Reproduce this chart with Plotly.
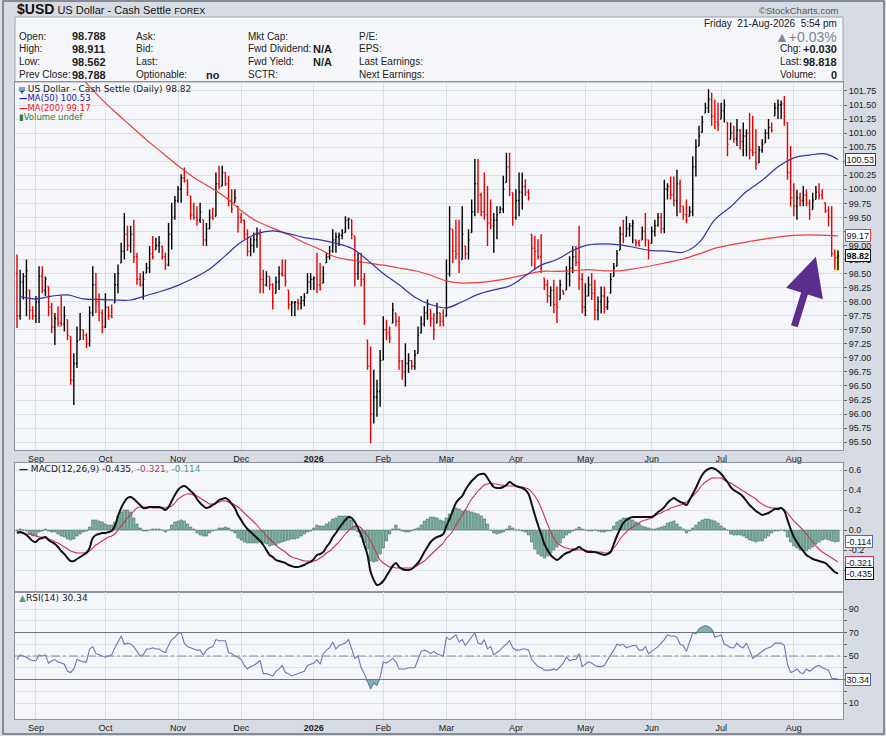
import numpy as np
import pandas as pd
import plotly.graph_objects as go

W, H = 886, 736

# daily bars, 22-Aug-2025 .. 21-Aug-2026
high = [
    98.84, 98.57, 98.51, 98.75, 98.21, 97.92, 98.10, 98.63, 98.63, 98.45,
    98.27, 97.98, 97.80, 97.92, 98.10, 97.92, 97.68, 97.38, 97.08, 97.56,
    97.80, 97.50, 97.44, 97.92, 98.63, 98.51, 98.15, 97.86, 98.15, 97.92,
    97.95, 98.51, 98.66, 99.05, 99.58, 99.35, 99.35, 99.46, 98.87, 98.51,
    98.54, 98.69, 98.99, 99.17, 99.14, 99.17, 98.99, 98.87, 99.40, 99.76,
    99.88, 100.06, 100.27, 100.39, 100.18, 99.88, 99.76, 99.70, 99.76, 99.46,
    99.40, 99.64, 99.67, 100.30, 100.42, 100.42, 100.30, 100.24, 100.00, 100.00,
    99.70, 99.58, 99.46, 99.29, 99.14, 99.23, 99.32, 99.29, 98.57, 98.54,
    98.45, 98.33, 98.45, 98.63, 98.75, 98.75, 98.21, 98.01, 98.01, 98.05,
    98.10, 98.15, 98.51, 98.51, 98.45, 98.87, 98.69, 98.63, 98.87, 98.99,
    99.29, 99.23, 99.23, 99.29, 99.52, 99.50, 99.46, 99.17, 98.87, 98.87,
    98.51, 97.32, 97.20, 96.79, 96.61, 97.14, 97.74, 97.68, 97.56, 97.98,
    97.80, 97.74, 96.96, 97.26, 97.08, 96.96, 97.14, 97.56, 97.74, 97.92,
    98.04, 97.86, 97.80, 97.98, 97.80, 97.86, 98.75, 99.70, 99.29, 99.46,
    99.46, 99.70, 98.99, 99.29, 99.82, 100.54, 100.54, 99.94, 100.30, 100.06,
    99.82, 99.58, 99.70, 99.70, 100.24, 100.65, 100.65, 99.94, 100.00, 100.30,
    100.30, 100.18, 100.00, 99.20, 99.17, 99.11, 99.20, 98.42, 98.39, 98.27,
    98.39, 98.27, 98.39, 98.20, 98.63, 98.81, 98.99, 98.99, 99.35, 98.51,
    98.33, 98.45, 98.51, 98.39, 98.09, 98.27, 98.27, 98.09, 98.51, 98.69,
    98.92, 99.34, 99.46, 99.52, 99.40, 99.46, 99.10, 99.10, 99.34, 99.58,
    99.10, 99.34, 99.46, 99.58, 99.58, 100.17, 100.11, 100.23, 100.23, 100.35,
    100.17, 99.70, 99.82, 99.70, 100.59, 100.89, 101.13, 101.31, 101.54, 101.78,
    101.72, 101.60, 101.54, 101.54, 101.60, 101.19, 101.19, 101.13, 101.25, 101.07,
    101.19, 101.07, 101.36, 101.31, 101.07, 100.77, 100.89, 101.07, 101.25, 101.19,
    101.54, 101.60, 101.58, 101.66, 101.19, 100.77, 100.11, 99.99, 99.94, 100.06,
    100.00, 99.82, 99.94, 100.06, 100.11, 100.00, 99.76, 99.70, 99.70, 98.93,
    98.911,
]
low = [
    97.53, 97.68, 98.04, 97.74, 97.68, 97.68, 97.62, 97.62, 98.15, 98.10,
    97.74, 97.44, 97.23, 97.56, 97.56, 97.47, 97.32, 96.52, 96.16, 96.82,
    97.32, 97.32, 97.17, 97.20, 97.74, 97.80, 97.65, 97.44, 97.53, 97.68,
    97.71, 97.98, 98.15, 98.69, 98.75, 98.90, 98.87, 98.69, 98.30, 98.27,
    98.04, 98.51, 98.51, 98.75, 98.93, 98.87, 98.75, 98.57, 98.63, 98.93,
    99.46, 99.76, 99.76, 100.12, 99.88, 99.46, 99.46, 99.35, 99.40, 98.99,
    98.99, 99.29, 99.46, 99.52, 100.00, 100.06, 100.06, 99.70, 99.58, 99.76,
    99.23, 99.40, 99.11, 98.81, 98.81, 98.87, 98.96, 98.15, 98.15, 98.27,
    98.21, 97.86, 98.15, 98.21, 98.45, 98.27, 97.86, 97.74, 97.74, 97.85,
    97.86, 97.92, 98.15, 98.21, 98.21, 98.15, 98.20, 98.33, 98.69, 98.75,
    98.87, 98.87, 98.99, 99.11, 99.23, 99.29, 99.11, 98.27, 98.39, 98.27,
    97.59, 96.79, 95.48, 95.83, 95.95, 96.13, 96.96, 97.32, 97.26, 97.62,
    97.56, 96.79, 96.61, 96.49, 96.73, 96.79, 96.79, 97.08, 97.44, 97.56,
    97.68, 97.56, 97.32, 97.62, 97.56, 97.56, 97.74, 98.45, 98.69, 98.75,
    98.51, 98.75, 98.75, 98.75, 99.23, 99.52, 99.58, 99.52, 99.46, 98.99,
    99.29, 98.87, 99.11, 99.58, 99.58, 100.12, 99.88, 99.35, 99.46, 99.52,
    99.64, 99.88, 99.80, 98.63, 98.57, 98.75, 98.51, 98.21, 97.98, 97.92,
    97.80, 97.62, 98.04, 98.12, 98.21, 98.27, 98.51, 98.63, 98.21, 97.79,
    97.74, 98.10, 98.03, 97.67, 97.67, 97.79, 97.79, 97.85, 98.15, 98.45,
    98.63, 98.92, 99.04, 99.16, 99.16, 99.04, 98.98, 98.98, 99.10, 98.98,
    98.75, 99.04, 99.16, 99.34, 99.22, 99.22, 99.82, 99.82, 99.70, 99.52,
    99.58, 99.46, 99.40, 99.52, 99.52, 100.23, 100.77, 101.01, 101.36, 101.36,
    101.13, 101.07, 101.04, 101.25, 101.19, 100.59, 100.89, 100.83, 100.77, 100.71,
    100.59, 100.59, 100.53, 100.59, 100.35, 100.47, 100.65, 100.83, 100.89, 101.01,
    101.31, 101.25, 101.25, 101.13, 100.17, 99.70, 99.52, 99.46, 99.70, 99.70,
    99.70, 99.46, 99.64, 99.82, 99.82, 99.82, 99.58, 99.34, 98.80, 98.57,
    98.562,
]
close = [
    97.75, 98.35, 98.45, 98.55, 97.85, 97.75, 98.00, 98.45, 98.20, 98.40,
    97.90, 97.55, 97.70, 97.62, 97.60, 97.75, 97.40, 96.60, 96.90, 97.30,
    97.50, 97.40, 97.25, 97.80, 98.30, 98.00, 97.80, 97.55, 97.90, 97.75,
    97.72, 98.30, 98.50, 98.90, 99.20, 99.00, 99.20, 98.80, 98.40, 98.30,
    98.40, 98.60, 98.85, 98.80, 99.00, 99.05, 98.80, 98.65, 99.20, 99.50,
    99.80, 100.00, 100.20, 100.15, 99.95, 99.55, 99.50, 99.45, 99.60, 99.10,
    99.30, 99.50, 99.47, 100.10, 100.05, 100.30, 100.10, 99.80, 99.65, 99.85,
    99.50, 99.45, 99.20, 98.90, 99.00, 99.10, 99.20, 98.40, 98.30, 98.45,
    98.30, 98.00, 98.35, 98.50, 98.47, 98.35, 97.95, 97.98, 97.99, 97.97,
    98.02, 98.08, 98.35, 98.40, 98.42, 98.30, 98.22, 98.50, 98.80, 98.90,
    99.10, 99.15, 99.18, 99.22, 99.45, 99.47, 99.20, 98.50, 98.70, 98.40,
    97.65, 96.85, 96.00, 96.30, 96.40, 96.95, 97.50, 97.45, 97.35, 97.85,
    97.65, 96.95, 96.75, 96.90, 96.95, 96.85, 97.05, 97.40, 97.60, 97.80,
    97.95, 97.70, 97.50, 97.80, 97.65, 97.60, 98.50, 99.30, 98.90, 98.85,
    98.70, 99.20, 98.85, 99.10, 99.60, 100.10, 99.90, 99.60, 99.55, 99.40,
    99.35, 99.45, 99.55, 99.65, 100.00, 100.40, 100.00, 99.50, 99.80, 99.95,
    100.05, 99.95, 99.85, 98.95, 98.90, 98.80, 98.60, 98.30, 98.10, 98.20,
    97.95, 97.90, 98.30, 98.15, 98.50, 98.60, 98.80, 98.70, 98.40, 97.90,
    98.10, 98.30, 98.15, 97.85, 98.00, 98.10, 97.90, 98.00, 98.40, 98.60,
    98.85, 99.20, 99.10, 99.30, 99.35, 99.40, 99.05, 99.00, 99.25, 99.10,
    98.90, 99.25, 99.35, 99.50, 99.30, 100.00, 100.05, 99.90, 99.80, 100.10,
    99.70, 99.55, 99.45, 99.60, 100.40, 100.75, 100.95, 101.20, 101.45, 101.60,
    101.30, 101.20, 101.15, 101.40, 101.50, 100.80, 101.00, 100.90, 101.05, 100.85,
    100.95, 101.00, 100.70, 100.65, 100.45, 100.70, 100.80, 101.00, 101.10, 101.05,
    101.45, 101.50, 101.52, 101.30, 100.30, 99.85, 99.70, 99.85, 99.80, 99.90,
    99.75, 99.55, 99.80, 99.95, 99.90, 99.83, 99.62, 99.50, 98.85, 98.788,
    98.818,
]
first_open = 98.50

macd = [
    -0.03, -0.02, -0.03, -0.05, -0.08, -0.11, -0.12, -0.09, -0.08, -0.07,
    -0.10, -0.12, -0.14, -0.17, -0.21, -0.24, -0.28, -0.31, -0.31, -0.29,
    -0.27, -0.25, -0.23, -0.18, -0.08, -0.05, -0.04, -0.03, -0.03, -0.02,
    -0.01, 0.04, 0.14, 0.22, 0.28, 0.32, 0.33, 0.31, 0.28, 0.25,
    0.22, 0.22, 0.23, 0.23, 0.23, 0.23, 0.22, 0.20, 0.23, 0.29,
    0.35, 0.40, 0.43, 0.44, 0.42, 0.39, 0.36, 0.31, 0.27, 0.24,
    0.22, 0.23, 0.25, 0.27, 0.30, 0.31, 0.32, 0.30, 0.26, 0.22,
    0.15, 0.10, 0.05, 0.01, -0.02, -0.05, -0.08, -0.11, -0.15, -0.20,
    -0.25, -0.27, -0.30, -0.31, -0.32, -0.33, -0.35, -0.36, -0.37, -0.37,
    -0.36, -0.35, -0.33, -0.32, -0.29, -0.25, -0.24, -0.22, -0.17, -0.13,
    -0.07, -0.03, 0.02, 0.06, 0.10, 0.13, 0.12, 0.08, 0.02, -0.05,
    -0.15, -0.25, -0.42, -0.50, -0.55, -0.54, -0.51, -0.46, -0.41, -0.36,
    -0.33, -0.37, -0.39, -0.40, -0.40, -0.39, -0.36, -0.33, -0.28, -0.22,
    -0.17, -0.12, -0.09, -0.07, -0.06, -0.04, 0.04, 0.11, 0.19, 0.27,
    0.31, 0.34, 0.40, 0.45, 0.49, 0.52, 0.55, 0.56, 0.56, 0.52,
    0.47, 0.43, 0.42, 0.42, 0.43, 0.45, 0.48, 0.46, 0.44, 0.43,
    0.42, 0.40, 0.36, 0.26, 0.15, 0.05, -0.04, -0.14, -0.20, -0.25,
    -0.28, -0.30, -0.28, -0.25, -0.23, -0.22, -0.20, -0.19, -0.17, -0.19,
    -0.21, -0.22, -0.22, -0.22, -0.23, -0.24, -0.25, -0.24, -0.22, -0.14,
    -0.06, 0.01, 0.07, 0.10, 0.12, 0.13, 0.13, 0.13, 0.13, 0.13,
    0.13, 0.13, 0.15, 0.18, 0.20, 0.23, 0.27, 0.30, 0.32, 0.30,
    0.28, 0.27, 0.25, 0.30, 0.36, 0.42, 0.49, 0.55, 0.59, 0.61,
    0.62, 0.61, 0.59, 0.56, 0.52, 0.48, 0.43, 0.40, 0.38, 0.36,
    0.33, 0.29, 0.25, 0.22, 0.19, 0.17, 0.15, 0.16, 0.17, 0.19,
    0.21, 0.21, 0.22, 0.19, 0.10, 0.01, -0.07, -0.12, -0.17, -0.21,
    -0.25, -0.27, -0.29, -0.30, -0.31, -0.32, -0.33, -0.36, -0.39, -0.42,
    -0.435,
]
signal = [
    -0.02, -0.03, -0.03, -0.04, -0.04, -0.05, -0.06, -0.07, -0.07, -0.08,
    -0.09, -0.10, -0.12, -0.13, -0.15, -0.17, -0.19, -0.21, -0.22, -0.23,
    -0.23, -0.23, -0.22, -0.21, -0.18, -0.15, -0.13, -0.11, -0.09, -0.07,
    -0.06, -0.04, 0.00, 0.04, 0.08, 0.12, 0.15, 0.19, 0.22, 0.23,
    0.23, 0.23, 0.23, 0.22, 0.22, 0.22, 0.22, 0.22, 0.23, 0.24,
    0.27, 0.31, 0.33, 0.35, 0.36, 0.36, 0.35, 0.34, 0.32, 0.30,
    0.28, 0.26, 0.26, 0.27, 0.28, 0.29, 0.29, 0.28, 0.27, 0.25,
    0.23, 0.20, 0.17, 0.14, 0.11, 0.08, 0.05, 0.01, -0.02, -0.06,
    -0.09, -0.12, -0.15, -0.18, -0.20, -0.22, -0.25, -0.27, -0.28, -0.29,
    -0.30, -0.31, -0.31, -0.31, -0.31, -0.30, -0.28, -0.26, -0.23, -0.21,
    -0.18, -0.15, -0.12, -0.08, -0.04, -0.01, 0.02, 0.04, 0.04, 0.02,
    -0.02, -0.06, -0.11, -0.18, -0.24, -0.30, -0.33, -0.35, -0.37, -0.37,
    -0.38, -0.38, -0.38, -0.38, -0.38, -0.38, -0.37, -0.35, -0.33, -0.31,
    -0.28, -0.25, -0.22, -0.19, -0.16, -0.13, -0.08, -0.05, -0.01, 0.05,
    0.10, 0.15, 0.20, 0.26, 0.31, 0.35, 0.39, 0.42, 0.45, 0.46,
    0.47, 0.46, 0.46, 0.45, 0.45, 0.44, 0.44, 0.44, 0.44, 0.43,
    0.43, 0.42, 0.41, 0.38, 0.34, 0.29, 0.22, 0.14, 0.06, -0.02,
    -0.08, -0.13, -0.15, -0.17, -0.18, -0.19, -0.19, -0.20, -0.20, -0.20,
    -0.21, -0.21, -0.21, -0.22, -0.22, -0.22, -0.23, -0.23, -0.21, -0.18,
    -0.14, -0.09, -0.05, -0.02, 0.01, 0.03, 0.05, 0.07, 0.09, 0.10,
    0.11, 0.12, 0.14, 0.16, 0.17, 0.19, 0.20, 0.22, 0.23, 0.24,
    0.25, 0.26, 0.28, 0.31, 0.34, 0.37, 0.41, 0.45, 0.48, 0.50,
    0.52, 0.52, 0.52, 0.52, 0.50, 0.48, 0.47, 0.45, 0.43, 0.41,
    0.39, 0.37, 0.35, 0.33, 0.31, 0.28, 0.26, 0.24, 0.23, 0.22,
    0.22, 0.22, 0.22, 0.20, 0.17, 0.13, 0.09, 0.06, 0.03, 0.00,
    -0.04, -0.08, -0.12, -0.16, -0.19, -0.22, -0.24, -0.26, -0.28, -0.30,
    -0.321,
]
rsi = [
    47, 51, 50, 49, 47, 46, 46, 51, 50, 51,
    44, 46, 47, 45, 44, 43, 37, 36, 39, 47,
    46, 45, 45, 56, 58, 52, 51, 50, 49, 50,
    51, 57, 62, 67, 60, 61, 60, 58, 54, 50,
    51, 56, 56, 57, 56, 56, 54, 53, 59, 64,
    66, 69, 70, 61, 58, 57, 56, 55, 55, 51,
    55, 57, 58, 64, 63, 63, 63, 53, 52, 50,
    49, 47, 42, 39, 41, 42, 44, 46, 35, 35,
    34, 33, 37, 39, 42, 36, 35, 33, 34, 35,
    36, 37, 42, 43, 44, 47, 43, 52, 55, 57,
    62, 56, 59, 60, 61, 64, 56, 48, 50, 40,
    35, 28, 22, 27, 25, 32, 45, 44, 46, 48,
    45, 39, 39, 39, 40, 40, 40, 47, 54, 55,
    54, 52, 54, 52, 51, 50, 66, 64, 66, 68,
    62, 64, 59, 63, 66, 70, 61, 60, 64, 56,
    58, 51, 53, 55, 58, 60, 63, 57, 55, 55,
    56, 56, 55, 47, 44, 41, 40, 38, 38, 38,
    39, 38, 41, 44, 49, 46, 47, 47, 52, 41,
    43, 45, 44, 42, 41, 41, 42, 47, 51, 55,
    60, 59, 60, 57, 58, 59, 59, 55, 55, 58,
    52, 54, 56, 58, 61, 64, 68, 67, 67, 66,
    60, 59, 54, 62, 70, 69, 73, 75, 76, 75,
    73, 66, 67, 68, 60, 59, 57, 57, 61, 58,
    57, 61, 55, 48, 50, 52, 54, 56, 57, 58,
    61, 61, 61, 59, 43, 36, 37, 39, 36, 35,
    39, 37, 39, 41, 42, 40, 39, 38, 31, 30.5,
    30.34,
]

# moving averages read weekly (Mondays) plus the last session
ma50 = [
    98.09, 98.05, 98.10, 98.12, 98.05, 98.04, 98.03, 98.03, 98.11, 98.19,
    98.29, 98.42, 98.58, 98.82, 99.06, 99.21, 99.26, 99.21, 99.14, 99.10,
    99.04, 98.95, 98.74, 98.50, 98.30, 98.08, 97.95, 97.89, 98.00, 98.13,
    98.21, 98.28, 98.46, 98.65, 98.75, 98.91, 99.01, 99.03, 99.01, 98.96,
    98.91, 98.90, 98.88, 99.05, 99.46, 99.69, 99.96, 100.16, 100.40, 100.56,
    100.61, 100.63, 100.53,
]
ma200 = [
    102.25, 101.95, 101.65, 101.38, 101.13, 100.88, 100.65, 100.42, 100.21, 100.04,
    99.86, 99.62, 99.43, 99.31, 99.19, 99.05, 98.93, 98.79, 98.74, 98.69,
    98.65, 98.60, 98.55, 98.47, 98.37, 98.33, 98.34, 98.37, 98.42, 98.48,
    98.54, 98.54, 98.55, 98.57, 98.55, 98.55, 98.59, 98.64, 98.70, 98.76,
    98.85, 98.95, 99.01, 99.06, 99.11, 99.15, 99.18, 99.19, 99.18, 99.17,
]

month_ticks = ["2025-09-01", "2025-10-01", "2025-11-03", "2025-12-01", "2026-01-01", "2026-02-02",
               "2026-03-02", "2026-04-01", "2026-05-01", "2026-06-01", "2026-07-01", "2026-08-03"]
month_labels = ["Sep", "Oct", "Nov", "Dec", "<b>2026</b>", "Feb", "Mar", "Apr", "May", "Jun", "Jul", "Aug"]

dates = pd.bdate_range("2025-08-22", "2026-08-21")
last_day = pd.Timestamp("2026-08-21")
ma50_dates = list(pd.date_range("2025-08-25", "2026-08-17", freq="W-MON")) + [last_day]
ma200_dates = list(pd.date_range("2025-09-15", "2026-08-17", freq="W-MON")) + [last_day]

prev_close = [first_open] + close[:-1]
open_ = [min(max(p, l), h) for p, l, h in zip(prev_close, low, high)]
hist = np.round(np.array(macd) - np.array(signal), 3)
rsi_arr = np.array(rsi, dtype=float)

GRID = "#dcdfe6"
FRAME = "#8d929c"
FONT = "Liberation Sans, Arial, sans-serif"
LEG = "DejaVu Sans, Verdana, sans-serif"

fig = go.Figure()

# price panel
fig.add_trace(go.Scatter(x=ma200_dates, y=ma200, mode="lines", line=dict(color="#e8403c", width=1.2, shape="spline"),
                         xaxis="x", yaxis="y", hoverinfo="skip"))
fig.add_trace(go.Scatter(x=ma50_dates, y=ma50, mode="lines", line=dict(color="#3434a0", width=1.2, shape="spline"),
                         xaxis="x", yaxis="y", hoverinfo="skip"))
fig.add_trace(go.Ohlc(x=dates, open=open_, high=high, low=low, close=close,
                      increasing=dict(line=dict(color="#000000", width=1.4)),
                      decreasing=dict(line=dict(color="#e60000", width=1.4)),
                      tickwidth=0.35, xaxis="x", yaxis="y"))

# MACD panel
fig.add_trace(go.Bar(x=dates, y=hist, marker=dict(color="#86b9aa", line=dict(color="#3c6b5e", width=0.6)),
                     xaxis="x2", yaxis="y2", hoverinfo="skip"))
fig.add_trace(go.Scatter(x=dates, y=signal, mode="lines", line=dict(color="#c8325a", width=1.1, shape="spline"),
                         xaxis="x2", yaxis="y2"))
fig.add_trace(go.Scatter(x=dates, y=macd, mode="lines", line=dict(color="#111111", width=2, shape="spline"),
                         xaxis="x2", yaxis="y2"))

# RSI panel with overbought / oversold shading
fig.add_trace(go.Scatter(x=dates, y=[70] * len(dates), mode="lines", line=dict(width=0), xaxis="x3", yaxis="y3",
                         hoverinfo="skip"))
fig.add_trace(go.Scatter(x=dates, y=np.maximum(rsi_arr, 70), mode="lines", line=dict(width=0), fill="tonexty",
                         fillcolor="#7fb3a3", xaxis="x3", yaxis="y3", hoverinfo="skip"))
fig.add_trace(go.Scatter(x=dates, y=[30] * len(dates), mode="lines", line=dict(width=0), xaxis="x3", yaxis="y3",
                         hoverinfo="skip"))
fig.add_trace(go.Scatter(x=dates, y=np.minimum(rsi_arr, 30), mode="lines", line=dict(width=0), fill="tonexty",
                         fillcolor="#7fb3a3", xaxis="x3", yaxis="y3", hoverinfo="skip"))
fig.add_trace(go.Scatter(x=dates, y=rsi, mode="lines", line=dict(color="#6b76b8", width=1.1),
                         xaxis="x3", yaxis="y3"))

xdom = [15 / W, 843 / W]
xbase = dict(range=["2025-08-21 09:00", "2026-08-24 14:00"], rangebreaks=[dict(bounds=["sat", "mon"])],
             tickmode="array", tickvals=month_ticks, ticktext=month_labels, showgrid=True, gridcolor=GRID,
             showline=True, linecolor=FRAME, mirror=True, ticks="", tickfont=dict(size=9, color="#222"),
             domain=xdom, rangeslider=dict(visible=False), zeroline=False)


def ydom(top, bottom):
    return [1 - bottom / H, 1 - top / H]


ybase = dict(side="right", showgrid=True, gridcolor=GRID, showline=True, linecolor=FRAME, mirror=True,
             ticks="outside", ticklen=3, tickcolor="#666", tickfont=dict(size=9, color="#222"), zeroline=False)

fig.update_layout(
    width=W, height=H, margin=dict(l=0, r=0, t=0, b=0),
    paper_bgcolor="#d7dbe3", plot_bgcolor="#f5f6fa",
    font=dict(family=FONT, size=10, color="#222"),
    showlegend=False, bargap=0.25, hovermode=False,
    xaxis=dict(xbase, anchor="y"),
    xaxis2=dict(xbase, anchor="y2", matches="x", showticklabels=False),
    xaxis3=dict(xbase, anchor="y3", matches="x"),
    yaxis=dict(ybase, anchor="x", domain=ydom(82, 450), range=[95.36, 101.91], dtick=0.25, tick0=0,
               tickformat=".2f"),
    yaxis2=dict(ybase, anchor="x2", domain=ydom(463, 592), range=[-0.62, 0.67],
                tickvals=[-0.4, -0.2, 0, 0.2, 0.4, 0.6], ticktext=["-0.4", "-0.2", "0.0", "0.2", "0.4", "0.6"]),
    yaxis3=dict(ybase, anchor="x3", domain=ydom(592, 719), range=[-3.6, 104.5],
                tickvals=[10, 20, 30, 40, 50, 60, 70, 80, 90],
                ticktext=["10", "", "30", "", "50", "", "70", "", "90"]),
)

shapes = [
    dict(type="rect", xref="paper", yref="paper", x0=3 / W, x1=884 / W, y0=1 - 734 / H, y1=1 - 1 / H,
         line=dict(color="#6d727c", width=1.5), layer="below"),
    dict(type="rect", xref="paper", yref="paper", x0=15 / W, x1=843 / W, y0=1 - 82 / H, y1=1 - 17 / H,
         fillcolor="#f5f6fa", line=dict(color="#9da2ad", width=1), layer="below"),
    dict(type="rect", xref="x", yref="y", x0=dates[-1] - pd.Timedelta(hours=9), x1=dates[-1] + pd.Timedelta(hours=9),
         y0=low[-1] - 0.02, y1=high[-1] + 0.02, fillcolor="#f2e400", line=dict(width=0), layer="below"),
    dict(type="line", xref="x3 domain", yref="y3", x0=0, x1=1, y0=70, y1=70, line=dict(color="#6e727b", width=1)),
    dict(type="line", xref="x3 domain", yref="y3", x0=0, x1=1, y0=30, y1=30, line=dict(color="#6e727b", width=1)),
    dict(type="line", xref="x3 domain", yref="y3", x0=0, x1=1, y0=50, y1=50,
         line=dict(color="#8a8e96", width=1, dash="dashdot")),
]
fig.update_layout(shapes=shapes)


def note(x, y, text, size=10, color="#222", anchor="left", family=FONT):
    return dict(x=x / W, y=1 - y / H, xref="paper", yref="paper", text=text, showarrow=False,
                xanchor=anchor, yanchor="middle", font=dict(size=size, color=color, family=family))


def tag(value, yref, text, border, bold=False):
    return dict(x=845 / W, xref="paper", y=value, yref=yref, text=f"<b>{text}</b>" if bold else text,
                showarrow=False, xanchor="left", yanchor="middle", bgcolor="#ffffff", bordercolor=border,
                borderwidth=1, borderpad=0.5, font=dict(size=9, color="#111", family=FONT))


ann = [
    note(15, 9, "<b><span style='font-size:14px'>$USD</span></b> US Dollar - Cash Settle "
                "<span style='font-size:9px'>FOREX</span>", size=11, color="#111"),
    note(840, 10, "©StockCharts.com", size=9.5, color="#555", anchor="right"),
    note(839, 23, "Friday  21-Aug-2026  5:54 pm", size=10, anchor="right"),
    note(839, 37, "▲+0.03%", size=14, color="#7d8694", anchor="right"),
    note(778, 49, "Chg:"), note(839, 49, "<b>+0.030</b>", size=11, anchor="right"),
    note(778, 62, "Last:"), note(839, 62, "<b>98.818</b>", size=11, anchor="right"),
    note(778, 75, "Volume:"), note(839, 75, "<b>0</b>", size=11, anchor="right"),
]
rows = [36, 49, 62, 75]
col1 = [("Open:", "98.788"), ("High:", "98.911"), ("Low:", "98.562"), ("Prev Close:", "98.788")]
col2 = [("Ask:", ""), ("Bid:", ""), ("Last:", ""), ("Optionable:", "no")]
col3 = [("Mkt Cap:", ""), ("Fwd Dividend:", "N/A"), ("Fwd Yield:", "N/A"), ("SCTR:", "")]
col4 = ["P/E:", "EPS:", "Last Earnings:", "Next Earnings:"]
for y, (a, b), (c, d), (e, f), g in zip(rows, col1, col2, col3, col4):
    ann.append(note(17, y, a))
    ann.append(note(70, y, f"<b>{b}</b>", size=11))
    ann.append(note(134, y, c))
    if d:
        ann.append(note(204, y, f"<b>{d}</b>", size=11))
    ann.append(note(246, y, e))
    if f:
        ann.append(note(311, y, f"<b>{f}</b>", size=11))
    ann.append(note(357, y, g))

ann += [
    note(17, 89, "ψ US Dollar - Cash Settle (Daily) 98.82", size=9, color="#222", family=LEG),
    note(17, 98, "<b>—</b>MA(50) 100.53", size=8.5, color="#2323a0", family=LEG),
    note(17, 108, "<b>—</b>MA(200) 99.17", size=8.5, color="#e3201b", family=LEG),
    note(17, 117, "▮Volume undef", size=8.5, color="#2f7a34", family=LEG),
    note(17, 469, "<b>—</b> MACD(12,26,9) -0.435<span style='color:#c8325a'>, -0.321</span>"
                  "<span style='color:#5a9c8a'>, -0.114</span>", size=9, color="#222", family=LEG),
    note(17, 598, "<span style='color:#5a9c8a'>▲</span>RSI(14) 30.34", size=9, color="#222", family=LEG),
    tag(100.53, "y", "100.53", "#3434a0"),
    tag(99.17, "y", "99.17", "#e8403c"),
    tag(98.82, "y", "98.82", "#111111", bold=True),
    tag(-0.114, "y2", "-0.114", "#5566aa"),
    tag(-0.321, "y2", "-0.321", "#c8325a"),
    tag(-0.435, "y2", "-0.435", "#111111"),
    tag(30.34, "y3", "30.34", "#5566aa"),
    dict(x=dates[253], y=98.80, xref="x", yref="y", text="", showarrow=True, ax=-22, ay=71,
         arrowcolor="#5b2d8e", arrowwidth=7, arrowhead=2, arrowsize=1.1, standoff=0),
]
fig.update_layout(annotations=ann)

# the page body keeps its default 8px margin otherwise, which shifts the chart out of the window
fig.write_html("out.html", config={"displayModeBar": False},
               post_script="document.body.style.margin='0';")
